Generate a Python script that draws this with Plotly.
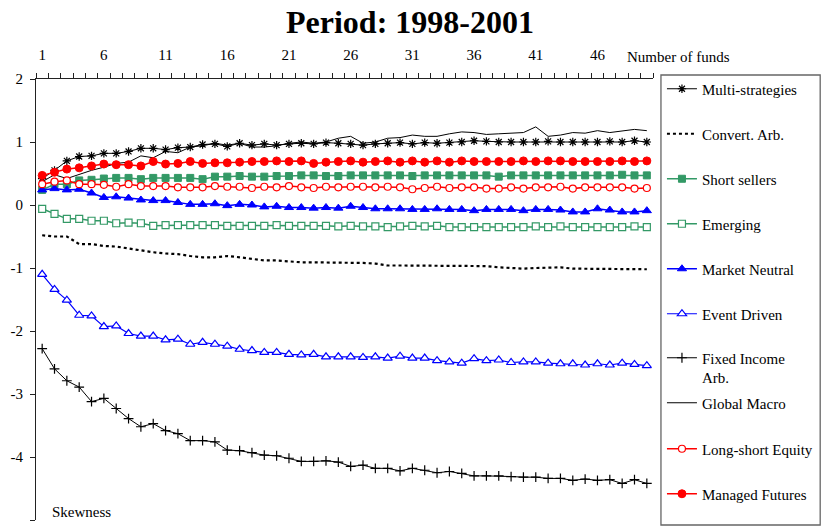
import plotly.graph_objects as go

n_funds = list(range(1, 51))

multi_strategies = [0.42, 0.55, 0.70, 0.77, 0.78, 0.82, 0.82, 0.85, 0.90, 0.90,
                    0.88, 0.91, 0.92, 0.96, 0.97, 0.93, 0.98, 0.95, 0.97, 0.95,
                    0.97, 0.98, 0.97, 0.99, 0.98, 0.97, 0.95, 0.97, 0.98, 0.99,
                    0.97, 0.99, 0.98, 0.99, 1.00, 1.02, 1.01, 1.00, 1.00, 1.00,
                    1.00, 1.01, 1.00, 1.00, 1.00, 1.00, 1.01, 1.00, 1.02, 1.00]

convert_arb = [-0.48, -0.50, -0.50, -0.62, -0.62, -0.65, -0.66, -0.69, -0.73, -0.75,
               -0.77, -0.78, -0.81, -0.83, -0.83, -0.81, -0.83, -0.85, -0.88, -0.88,
               -0.90, -0.91, -0.91, -0.91, -0.91, -0.92, -0.92, -0.93, -0.96, -0.96,
               -0.96, -0.96, -0.97, -0.97, -0.97, -0.97, -0.97, -0.99, -1.00, -1.01,
               -1.00, -1.00, -0.99, -1.01, -1.01, -1.01, -1.01, -1.01, -1.01, -1.02]

short_sellers = [0.24, 0.33, 0.33, 0.39, 0.40, 0.42, 0.43, 0.43, 0.41, 0.43,
                 0.43, 0.43, 0.43, 0.41, 0.45, 0.45, 0.46, 0.45, 0.45, 0.46,
                 0.46, 0.47, 0.47, 0.46, 0.46, 0.47, 0.47, 0.47, 0.47, 0.47,
                 0.46, 0.47, 0.47, 0.47, 0.47, 0.47, 0.47, 0.45, 0.47, 0.47,
                 0.47, 0.47, 0.47, 0.47, 0.47, 0.47, 0.47, 0.48, 0.47, 0.47]

emerging = [-0.06, -0.14, -0.22, -0.22, -0.25, -0.25, -0.29, -0.28, -0.29, -0.33,
            -0.32, -0.32, -0.32, -0.32, -0.32, -0.33, -0.33, -0.33, -0.33, -0.32,
            -0.33, -0.33, -0.33, -0.33, -0.34, -0.33, -0.34, -0.34, -0.35, -0.34,
            -0.33, -0.34, -0.33, -0.35, -0.35, -0.35, -0.35, -0.35, -0.35, -0.35,
            -0.34, -0.35, -0.34, -0.35, -0.35, -0.35, -0.35, -0.35, -0.34, -0.35]

market_neutral = [0.24, 0.26, 0.24, 0.25, 0.19, 0.12, 0.13, 0.11, 0.08, 0.07,
                  0.07, 0.04, 0.01, 0.01, 0.02, -0.01, 0.01, 0.00, -0.03, -0.02,
                  -0.04, -0.04, -0.05, -0.04, -0.05, -0.02, -0.04, -0.06, -0.06, -0.06,
                  -0.07, -0.07, -0.06, -0.07, -0.07, -0.09, -0.07, -0.07, -0.07, -0.09,
                  -0.07, -0.07, -0.08, -0.11, -0.11, -0.06, -0.08, -0.11, -0.11, -0.09]

event_driven = [-1.10, -1.34, -1.51, -1.75, -1.76, -1.93, -1.92, -2.04, -2.08, -2.08,
                -2.14, -2.13, -2.21, -2.18, -2.21, -2.24, -2.29, -2.31, -2.34, -2.34,
                -2.37, -2.38, -2.37, -2.41, -2.41, -2.41, -2.42, -2.41, -2.43, -2.40,
                -2.43, -2.43, -2.47, -2.49, -2.51, -2.44, -2.47, -2.46, -2.50, -2.49,
                -2.49, -2.51, -2.52, -2.52, -2.54, -2.52, -2.54, -2.51, -2.53, -2.55]

fixed_income_arb = [-2.28, -2.60, -2.79, -2.89, -3.12, -3.07, -3.23, -3.39, -3.52, -3.47,
                    -3.58, -3.63, -3.74, -3.74, -3.76, -3.89, -3.90, -3.93, -3.97, -3.98,
                    -4.02, -4.07, -4.07, -4.06, -4.08, -4.15, -4.13, -4.18, -4.18, -4.22,
                    -4.18, -4.21, -4.25, -4.23, -4.26, -4.30, -4.30, -4.30, -4.31, -4.32,
                    -4.32, -4.34, -4.34, -4.37, -4.35, -4.37, -4.36, -4.42, -4.36, -4.42]

global_macro = [0.37, 0.48, 0.42, 0.49, 0.55, 0.60, 0.66, 0.68, 0.78, 0.75,
                0.85, 0.83, 0.92, 0.94, 0.98, 0.95, 0.98, 0.92, 0.92, 0.94,
                0.98, 1.00, 0.98, 1.00, 1.06, 1.09, 0.98, 1.00, 1.06, 1.07,
                1.11, 1.09, 1.09, 1.13, 1.16, 1.15, 1.12, 1.13, 1.14, 1.15,
                1.24, 1.09, 1.11, 1.15, 1.14, 1.18, 1.15, 1.17, 1.20, 1.18]

long_short_equity = [0.33, 0.37, 0.39, 0.33, 0.33, 0.32, 0.29, 0.33, 0.30, 0.30,
                     0.30, 0.28, 0.28, 0.28, 0.30, 0.29, 0.29, 0.27, 0.29, 0.28,
                     0.30, 0.28, 0.27, 0.29, 0.28, 0.29, 0.29, 0.28, 0.29, 0.28,
                     0.25, 0.27, 0.29, 0.27, 0.28, 0.28, 0.26, 0.26, 0.28, 0.26,
                     0.28, 0.28, 0.29, 0.26, 0.28, 0.28, 0.28, 0.28, 0.26, 0.27]

managed_futures = [0.47, 0.52, 0.57, 0.59, 0.62, 0.65, 0.64, 0.64, 0.62, 0.69,
                   0.65, 0.66, 0.69, 0.66, 0.67, 0.67, 0.68, 0.69, 0.69, 0.70,
                   0.69, 0.70, 0.66, 0.68, 0.69, 0.70, 0.68, 0.69, 0.70, 0.68,
                   0.70, 0.68, 0.70, 0.68, 0.70, 0.69, 0.69, 0.69, 0.69, 0.70,
                   0.69, 0.70, 0.70, 0.69, 0.69, 0.69, 0.69, 0.70, 0.69, 0.70]

x_tick_vals = [1, 6, 11, 16, 21, 26, 31, 36, 41, 46]
x_tick_text = ["1", "6", "11", "16", "21", "26", "31", "36", "41", "46"]
y_tick_vals = [2, 1, 0, -1, -2, -3, -4, -5]
y_tick_text = ["2", "1", "0", "-1", "-2", "-3", "-4", "-5"]

GREEN = "#339966"
RED = "#FF0000"
BLUE = "#0000FF"
BLACK = "#000000"
FONT = "Liberation Serif"

# plot area geometry (pixels)
W, H = 825, 527
ML, MR, MT, MB = 36, 169, 79, 7
PW = W - ML - MR
PH = H - MT - MB


def py(pix):
    return (H - MB - pix) / PH


def px(pix):
    return (pix - ML) / PW


series = [
    ("Multi-strategies", multi_strategies,
     dict(color=BLACK, width=1), dict(symbol="asterisk-open", size=7, line=dict(color=BLACK, width=1.2)), 89),
    ("Convert. Arb.", convert_arb,
     dict(color=BLACK, width=2.2, dash="dot"), None, 134),
    ("Short sellers", short_sellers,
     dict(color=GREEN, width=1.5), dict(symbol="square", size=7, color=GREEN, line=dict(color=GREEN, width=1)), 179),
    ("Emerging", emerging,
     dict(color=GREEN, width=1.5), dict(symbol="square", size=7, color="white", line=dict(color=GREEN, width=1.2)), 224),
    ("Market Neutral", market_neutral,
     dict(color=BLUE, width=1.5), dict(symbol="triangle-up", size=8, color=BLUE, line=dict(color=BLUE, width=1)), 269),
    ("Event Driven", event_driven,
     dict(color=BLUE, width=1.2), dict(symbol="triangle-up", size=8, color="white", line=dict(color=BLUE, width=1.2)), 314),
    ("Fixed Income<br>Arb.", fixed_income_arb,
     dict(color=BLACK, width=1), dict(symbol="cross-thin-open", size=7, line=dict(color=BLACK, width=1.2)), 367.5),
    ("Global Macro", global_macro,
     dict(color=BLACK, width=1), None, 403),
    ("Long-short Equity", long_short_equity,
     dict(color=RED, width=1.5), dict(symbol="circle", size=7, color="white", line=dict(color=RED, width=1.2)), 449),
    ("Managed Futures", managed_futures,
     dict(color=RED, width=1.5), dict(symbol="circle", size=8, color=RED, line=dict(color=RED, width=1)), 494),
]

fig = go.Figure()
layout_legends = {}
for k, (name, vals, line, marker, ly) in enumerate(series):
    lname = "legend" if k == 0 else f"legend{k + 1}"
    kw = dict(x=n_funds, y=vals, name=name, line=line, legend=lname,
              mode="lines+markers" if marker else "lines")
    if marker:
        kw["marker"] = marker
    fig.add_trace(go.Scatter(**kw))
    layout_legends[lname] = dict(
        x=px(665), xanchor="left", y=py(ly), yanchor="middle",
        bgcolor="rgba(0,0,0,0)", borderwidth=0, valign="top",
        font=dict(family=FONT, size=15, color="black"),
    )

fig.update_layout(
    width=W, height=H,
    margin=dict(l=ML, r=MR, t=MT, b=MB),
    paper_bgcolor="white", plot_bgcolor="white",
    showlegend=True,
    title=dict(text="<b>Period: 1998-2001</b>", x=410 / W, xanchor="center",
               y=1 - 22 / H, yanchor="middle",
               font=dict(family=FONT, size=32, color="black")),
    font=dict(family=FONT, size=15, color="black"),
    xaxis=dict(
        range=[0.5, 50.5], side="top", showgrid=False, zeroline=False,
        showline=True, linecolor="#222222", linewidth=1.2,
        tickmode="array", tickvals=x_tick_vals, ticktext=x_tick_text,
        ticks="", ticklabelstandoff=12,
        tickfont=dict(family=FONT, size=15, color="black"),
        minor=dict(tickmode="array", tickvals=[v - 0.5 for v in n_funds] + [50.5],
                   ticks="outside", ticklen=5, tickcolor="#222222", tickwidth=1),
        automargin=False,
    ),
    yaxis=dict(
        range=[-5, 2], showgrid=False, zeroline=False,
        showline=True, linecolor="#222222", linewidth=1.2,
        tickmode="array", tickvals=y_tick_vals, ticktext=y_tick_text,
        ticks="outside", ticklen=5, tickcolor="#222222", tickwidth=1,
        ticklabelstandoff=4,
        tickfont=dict(family=FONT, size=15, color="black"),
        automargin=False,
    ),
    shapes=[dict(type="rect", xref="paper", yref="paper",
                 x0=px(664), x1=px(824), y0=py(525), y1=py(75),
                 line=dict(color="#666666", width=1.3), fillcolor="rgba(0,0,0,0)")],
    annotations=[
        dict(text="Number of funds", xref="paper", yref="paper",
             x=px(628), y=py(57), xanchor="left", yanchor="middle", showarrow=False,
             font=dict(family=FONT, size=15, color="black")),
        dict(text="Skewness", xref="paper", yref="paper",
             x=px(50), y=py(512), xanchor="left", yanchor="middle", showarrow=False,
             font=dict(family=FONT, size=15, color="black")),
    ],
    **layout_legends,
)

fig.write_html("out.html")
